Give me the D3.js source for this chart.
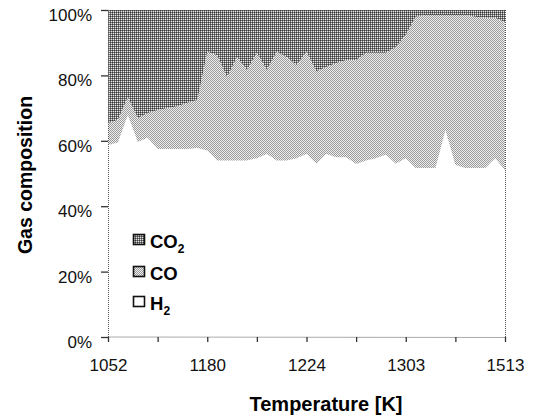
<!DOCTYPE html>
<html>
<head>
<meta charset="utf-8">
<script src="https://cdn.jsdelivr.net/npm/d3@7"></script>
<style>
	body { margin: 0; background: #fff; }
	svg { display: block; font-family: "Liberation Sans", Arial, sans-serif; }
</style>
</head>
<body>
<div id="viz"></div>
<script>
// x categories (41 measurement points), only every 10th is labelled
const tickLabels = ["1052", "1180", "1224", "1303", "1513"];
const labelEvery = 10;
const tickEvery = 5;

// gas composition in %
const h2 = [58.7, 59.5, 67.9, 59.6, 60.9, 57.5, 57.5, 57.5, 57.5, 57.8,
	57.0, 54.0, 54.0, 54.0, 54.0, 54.7, 56.0, 54.0, 54.0, 54.7,
	56.0, 53.0, 56.0, 55.0, 55.0, 52.9, 54.0, 54.7, 55.7, 53.0,
	54.7, 51.7, 51.7, 51.7, 63.3, 52.6, 51.7, 51.7, 51.7, 54.7, 51.0];
const co = [6.7, 6.9, 5.5, 7.4, 7.6, 11.9, 12.5, 13.1, 14.1, 14.7,
	30.2, 32.2, 25.5, 31.6, 27.7, 32.2, 25.7, 33.2, 31.6, 28.5,
	31.2, 28.3, 26.6, 28.8, 29.7, 31.8, 32.9, 32.2, 31.2, 35.7,
	37.7, 46.2, 46.8, 46.8, 35.2, 45.9, 46.8, 46.2, 45.9, 42.9, 45.3];
const co2 = [34.6, 33.6, 26.6, 33.0, 31.5, 30.6, 30.0, 29.4, 28.4, 27.5,
	12.8, 13.8, 20.5, 14.4, 18.3, 13.1, 18.3, 12.8, 14.4, 16.8,
	12.8, 18.7, 17.4, 16.2, 15.3, 15.3, 13.1, 13.1, 13.1, 11.3,
	7.6, 2.1, 1.5, 1.5, 1.5, 1.5, 1.5, 2.1, 2.4, 2.4, 3.7];
const yTicks = [0, 20, 40, 60, 80, 100];

const data = h2.map((v, i) => ({ i: i, H2: v, CO: co[i], CO2: co2[i] }));
const keys = ["H2", "CO", "CO2"];

const width = 533, height = 417;
const margin = { top: 10, right: 28, bottom: 80, left: 108 };
const iw = width - margin.left - margin.right,
	ih = height - margin.top - margin.bottom;

const svg = d3.select("#viz")
	.append("svg")
	.attr("width", width)
	.attr("height", height);

// dithered fills like the original print
const defs = svg.append("defs");
function pattern(id, cells) {
	const p = defs.append("pattern")
		.attr("id", id)
		.attr("width", 2)
		.attr("height", 2)
		.attr("patternUnits", "userSpaceOnUse");
	cells.forEach((c, k) => {
		p.append("rect")
			.attr("x", k % 2)
			.attr("y", Math.floor(k / 2))
			.attr("width", 1)
			.attr("height", 1)
			.attr("fill", c)
			.attr("shape-rendering", "crispEdges");
	});
}
pattern("pCO2", ["#3a3a3a", "#787878", "#787878", "#e6e6e6"]);
pattern("pCO", ["#9a9a9a", "#eee", "#eee", "#9a9a9a"]);

const fills = { H2: "#fff", CO: "url(#pCO)", CO2: "url(#pCO2)" };

const g = svg.append("g")
	.attr("transform", `translate(${margin.left},${margin.top})`);

const x = d3.scalePoint().domain(d3.range(data.length)).range([0, iw]);
const y = d3.scaleLinear().domain([0, 100]).range([ih, 0]);

const stacked = d3.stack().keys(keys)(data);

const area = d3.area()
	.x((d) => x(d.data.i))
	.y0((d) => y(d[0]))
	.y1((d) => y(d[1]));

g.append("g")
	.selectAll("path")
	.data(stacked)
	.join("path")
	.attr("fill", (d) => fills[d.key])
	.attr("d", area);

// dotted frame lines
[[0, 0, 0, ih], [iw, 0, iw, ih], [0, ih, iw, ih]].forEach((l) => {
	g.append("line")
		.attr("x1", l[0] + 0.5).attr("y1", l[1])
		.attr("x2", l[2] + 0.5).attr("y2", l[3] + 0.5)
		.attr("stroke", "#555")
		.attr("stroke-dasharray", "1,1");
});

// y axis
const yAxis = g.append("g")
	.call(d3.axisLeft(y).tickValues(yTicks).tickSize(7).tickFormat((d) => d + "%"));
yAxis.select(".domain").remove();
yAxis.selectAll(".tick line").attr("stroke", "#333").attr("stroke-width", 1.3);
yAxis.selectAll("text")
	.attr("x", -16)
	.attr("dy", "0.62em")
	.attr("font-size", 17)
	.attr("fill", "#111")
	.attr("font-family", "Liberation Sans, Arial, sans-serif");

// x axis
const xAxis = g.append("g")
	.attr("transform", `translate(0,${ih})`)
	.call(d3.axisBottom(x)
		.tickValues(d3.range(0, data.length, tickEvery))
		.tickSize(5)
		.tickFormat((d) => (d % labelEvery === 0 ? tickLabels[d / labelEvery] : "")));
xAxis.select(".domain").remove();
xAxis.selectAll(".tick line").attr("stroke", "#333").attr("stroke-width", 1.3);
xAxis.selectAll("text")
	.attr("y", 22)
	.attr("font-size", 17)
	.attr("fill", "#111")
	.attr("font-family", "Liberation Sans, Arial, sans-serif");

// axis titles
svg.append("text")
	.attr("x", 326)
	.attr("y", 411)
	.attr("text-anchor", "middle")
	.attr("font-weight", "bold")
	.attr("font-size", 20)
	.text("Temperature [K]");

svg.append("text")
	.attr("transform", "translate(32,175) rotate(-90)")
	.attr("text-anchor", "middle")
	.attr("font-weight", "bold")
	.attr("font-size", 19.5)
	.text("Gas composition");

// legend
const legendItems = [
	{ key: "CO2", base: "CO", sub: "2", y: 234 },
	{ key: "CO", base: "CO", sub: "", y: 266 },
	{ key: "H2", base: "H", sub: "2", y: 296 },
];
const leg = svg.append("g").selectAll("g")
	.data(legendItems)
	.join("g")
	.attr("transform", (d) => `translate(133,${d.y})`);
leg.append("rect")
	.attr("x", 0.5).attr("y", 0.5)
	.attr("width", 11).attr("height", 10)
	.attr("fill", (d) => fills[d.key])
	.attr("stroke", "#111")
	.attr("stroke-width", 1.6);
const lt = leg.append("text")
	.attr("x", 17)
	.attr("y", 14)
	.attr("font-weight", "bold")
	.attr("font-size", 18.5);
lt.append("tspan").text((d) => d.base);
lt.append("tspan")
	.attr("font-size", 12)
	.attr("dy", 5)
	.text((d) => d.sub);
</script>
</body>
</html>
